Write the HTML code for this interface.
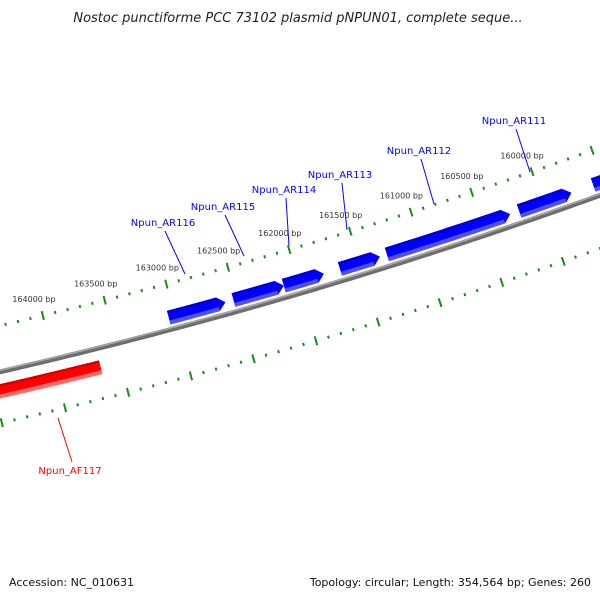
<!DOCTYPE html>
<html><head><meta charset="utf-8"><style>
body{margin:0;background:#fff;width:600px;height:600px;overflow:hidden;font-family:"DejaVu Sans","Liberation Sans",sans-serif}
svg{display:block}
</style></head><body>
<svg id="map" width="600" height="600" viewBox="0 0 600 600" xmlns="http://www.w3.org/2000/svg">
<rect width="600" height="600" fill="#fff"/>
<text x="298" y="22" text-anchor="middle" font-size="13" font-style="italic" fill="#222">Nostoc punctiforme PCC 73102 plasmid pNPUN01, complete seque...</text>
<g id="rulers"></g>
<g id="backbone"></g>
<g id="genes"></g>
<g id="labels"></g>
<text x="9" y="586" font-size="11" fill="#111">Accession: NC_010631</text>
<text x="591" y="586" text-anchor="end" font-size="11" fill="#111">Topology: circular; Length: 354,564 bp; Genes: 260</text>
</svg>
<script>
const geneNames=["Npun_AR116","Npun_AR115","Npun_AR114","Npun_AR113","Npun_AR112","Npun_AR111","Npun_AR110","Npun_AF117"];
const geneStarts=[163050,162527,162119,161663,161280,160196,159584,164700];
const geneEnds=[162592,162119,161793,161337,160269,159764,158900,163658];
const geneStrand=[-1,-1,-1,-1,-1,-1,-1,1];
const tickStart=158000, tickEnd=166000, minorStep=100, majorStep=500;
const tickLabelMin=160000, tickLabelMax=164000;
const labelPos=[[163,226],[223,210],[284,193],[340,178],[419,154],[514,124],null,[70,474]];
const lineFrom=[[185,274],[244,256],[289,246],[347,230],[434,204],[530,172],null,[58,418]];

const CX=-1165, CY=-4696, PHI0=70.78, K=0.0014175;
const NS="http://www.w3.org/2000/svg";
function ang(bp){return (PHI0+(bp-160000)*K)*Math.PI/180;}
function pt(r,bp){const a=ang(bp);return [CX+r*Math.cos(a),CY+r*Math.sin(a)];}
function mk(tag,attrs,parent){const e=document.createElementNS(NS,tag);for(const k in attrs)e.setAttribute(k,attrs[k]);parent.appendChild(e);return e;}
function arcPts(r,b1,b2,n){const p=[];for(let i=0;i<=n;i++){p.push(pt(r,b1+(b2-b1)*i/n));}return p;}
const rulers=document.getElementById('rulers');
[5155,5250].forEach((R,ri)=>{
  for(let b=tickStart;b<=tickEnd;b+=minorStep){
    const major=b%majorStep===0;
    const h=major?4.5:1.5;
    const a=pt(R-h,b), c=pt(R+h,b);
    const t=mk('line',{x1:a[0],y1:a[1],x2:c[0],y2:c[1],stroke:'#1a8a1a','stroke-width':2},rulers);
    
    
    if(major&&ri===0&&b>=tickLabelMin&&b<=tickLabelMax){
      const p=pt(R-12,b);
      const tx=mk('text',{x:p[0]-6,y:p[1]-2,'text-anchor':'middle','font-size':'8',fill:'#333'},rulers);
      tx.textContent=b+' bp';
      
      
    }
  }
});
const bb=document.getElementById('backbone');
const bpts=arcPts(5200,166000,158000,80).map(p=>p.join(',')).join(' ');
const b1=mk('polyline',{points:bpts,fill:'none',stroke:'#6e6e6e','stroke-width':5},bb);


mk('polyline',{points:arcPts(5198.5,166000,158000,80).map(p=>p.join(',')).join(' '),fill:'none',stroke:'#a8a8a8','stroke-width':1.5},bb);
const genes=document.getElementById('genes');
const labels=document.getElementById('labels');
geneNames.forEach((nm,i)=>{
  const fwd=geneStrand[i]>0;
  const rc=fwd?5219:5188, hw=7;
  const s=geneStarts[i], e=geneEnds[i];
  const tipEnd=fwd?s:e;
  const bodyEnd=fwd?s:e+60;
  const outer=arcPts(rc-hw,fwd?e:s,bodyEnd,30), inner=arcPts(rc+hw,bodyEnd,fwd?e:s,30);
  const tp=pt(rc,tipEnd);
  const pts=[...outer,tp,...inner].map(p=>p.join(',')).join(' ');
  const col=fwd?'#ff0000':'#0000ff';
  const g=mk('polygon',{points:pts,fill:col},genes);
  
  
  const sh=arcPts(rc+hw-2,fwd?e:s,bodyEnd,30).map(p=>p.join(',')).join(' ');
  mk('polyline',{points:sh,fill:'none',stroke:fwd?'#ff6a6a':'#5050ff','stroke-width':4},genes);
  const tpx=arcPts(rc-hw+1,fwd?e:s,bodyEnd,30).map(p=>p.join(',')).join(' ');
  mk('polyline',{points:tpx,fill:'none',stroke:fwd?'#cc0000':'#0000c8','stroke-width':2},genes);
  if(labelPos[i]){
    const lf=lineFrom[i], lp=labelPos[i];
    const ln=mk('line',{x1:lf[0],y1:lf[1],x2:lp[0]+2,y2:lp[1]+(fwd?-12:5),stroke:col,'stroke-width':1},labels);
    
    
    const tx=mk('text',{x:lp[0],y:lp[1],'text-anchor':'middle','font-size':'10',fill:col},labels);
    tx.textContent=nm;
    
    
  }
});
</script>
</body></html>
